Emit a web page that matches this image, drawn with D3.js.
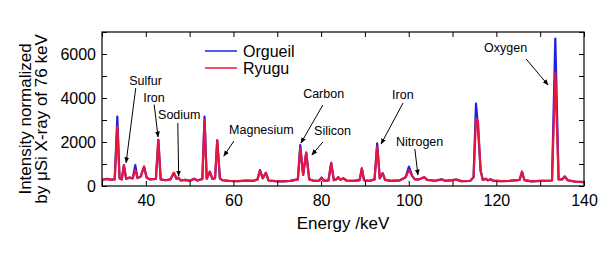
<!DOCTYPE html>
<html>
<head>
<meta charset="UTF-8">
<title></title>
<style>
  body { margin: 0; background: #fff; }
  text { font-family: "Liberation Sans", Arial, sans-serif; }
</style>
</head>
<body>
<script src="https://cdnjs.cloudflare.com/ajax/libs/d3/7.8.5/d3.min.js"></script>
<script>
// energy grid (keV) and intensities
var energy = [30, 31, 32, 32.9, 33.5, 34, 34.5, 35, 35.5, 36.3, 37, 37.6, 38.1, 38.8, 39.6, 40.2, 41, 42.3, 42.85, 43.4,
  44.5, 45.6, 46.4, 47, 47.4, 48, 49, 50, 51, 51.8, 52.9, 53.4, 53.9, 54.6, 55.2, 55.8, 56.3, 56.9, 57.5, 59,
  61, 63, 64.5, 65.5, 66.05, 66.7, 67.4, 68, 69.5, 71, 73, 74.7, 75.25, 75.9, 76.6, 77.3, 78.5, 79.6, 80.1, 80.6,
  81.7, 82.3, 82.9, 83.5, 83.9, 84.4, 85.1, 85.8, 87.5, 88.8, 89.3, 89.8, 91, 92.2, 92.8, 93.4, 94.05, 94.6, 96, 98,
  99.3, 100.05, 100.8, 101.4, 102.3, 103.5, 104.2, 106, 107.5, 108.5, 110.9, 112, 114, 114.8, 115.35, 115.8, 116.4, 116.9, 117.6, 118.1,
  118.7, 119.3, 121, 123, 125.3, 125.85, 126.4, 128, 130, 132.7, 133.45, 134.2, 135, 135.6, 136.3, 138, 140];

var orgueil = [280, 320, 290, 300, 3150, 350, 300, 950, 330, 380, 350, 950, 360, 420, 880, 380, 300, 320, 2100, 300,
  260, 300, 600, 330, 380, 250, 280, 230, 330, 250, 320, 3150, 330, 650, 320, 350, 2080, 350, 260, 230,
  220, 240, 230, 300, 720, 350, 600, 250, 220, 210, 230, 300, 1860, 500, 1520, 300, 230, 250, 380, 240,
  260, 1050, 270, 300, 400, 280, 350, 250, 230, 270, 800, 260, 230, 300, 1940, 350, 580, 280, 230, 260,
  400, 880, 450, 300, 300, 400, 280, 240, 300, 230, 290, 220, 230, 400, 3750, 2700, 700, 280, 330, 260,
  310, 240, 220, 230, 280, 650, 270, 210, 230, 250, 6700, 300, 300, 430, 260, 200, 180];

var ryugu = [280, 320, 290, 300, 2700, 350, 300, 950, 330, 380, 350, 730, 360, 420, 880, 380, 300, 320, 2100, 300,
  260, 300, 600, 330, 380, 250, 280, 230, 330, 250, 320, 3000, 330, 650, 320, 350, 2080, 350, 260, 230,
  220, 240, 230, 300, 720, 350, 600, 250, 220, 210, 230, 300, 1710, 500, 1520, 300, 230, 250, 380, 240,
  260, 1050, 270, 300, 400, 280, 350, 250, 230, 270, 800, 260, 230, 300, 1790, 350, 580, 280, 230, 260,
  400, 730, 450, 300, 300, 400, 280, 240, 300, 230, 290, 220, 230, 400, 3050, 2950, 700, 280, 330, 260,
  310, 240, 220, 230, 280, 650, 270, 210, 230, 250, 5150, 300, 300, 430, 260, 200, 180];

var xTickLabels = [40, 60, 80, 100, 120, 140];
var yTickLabels = [0, 2000, 4000, 6000];

// annotations: label, label position (keV, value), arrow start and tip (keV, value)
var notes = [
  {name: "Sulfur",    lx: 36.2,  ly: 4590, sx: 37.7,  sy: 4450, tx: 35.5,  ty: 1060},
  {name: "Iron",      lx: 39.4,  ly: 3820, sx: 41.9,  sy: 3700, tx: 42.8,  ty: 2230},
  {name: "Sodium",    lx: 42.8,  ly: 3050, sx: 47.3,  sy: 2860, tx: 47.5,  ty: 455},
  {name: "Magnesium", lx: 59,    ly: 2360, sx: 60.1,  sy: 2045, tx: 57.8,  ty: 1360},
  {name: "Carbon",    lx: 75.9,  ly: 4000, sx: 80.4,  sy: 3680, tx: 75.4,  ty: 1950},
  {name: "Silicon",   lx: 78.4,  ly: 2320, sx: 80.4,  sy: 2000, tx: 77.9,  ty: 1410},
  {name: "Iron",      lx: 96.2,  ly: 3950, sx: 98.7,  sy: 3770, tx: 93.7,  ty: 1910},
  {name: "Nitrogen",  lx: 97.1,  ly: 1820, sx: 101.4, sy: 1680, tx: 102.1, ty: 500},
  {name: "Oxygen",    lx: 117.2, ly: 6090, sx: 126.8, sy: 5770, tx: 131.8, ty: 4590}
];

var margin = {top: 32, right: 29, bottom: 68, left: 102};
var width = 613, height = 254;
var w = width - margin.left - margin.right;
var h = height - margin.top - margin.bottom;

var svg = d3.select("body").append("svg")
  .attr("width", width)
  .attr("height", height);

var defs = svg.append("defs");
defs.append("marker")
  .attr("id", "arrow")
  .attr("viewBox", "0 0 10 10")
  .attr("refX", 9).attr("refY", 5)
  .attr("markerWidth", 6).attr("markerHeight", 6)
  .attr("orient", "auto")
  .append("path")
  .attr("d", "M0,1L10,5L0,9Z")
  .attr("fill", "#000");

var g = svg.append("g").attr("transform", "translate(" + margin.left + "," + margin.top + ")");

var x = d3.scaleLinear().domain([30, 140]).range([0, w]);
var y = d3.scaleLinear().domain([0, 7000]).range([h, 0]);

defs.append("clipPath").attr("id", "clip")
  .append("rect").attr("width", w).attr("height", h);

var line = d3.line()
  .x(function(d) { return x(d[0]); })
  .y(function(d) { return y(d[1]); });

var orgData = energy.map(function(e, i) { return [e, orgueil[i]]; });
var ryuData = energy.map(function(e, i) { return [e, ryugu[i]]; });

var plot = g.append("g").attr("clip-path", "url(#clip)");
plot.append("path").datum(orgData)
  .attr("d", line)
  .attr("fill", "none")
  .attr("stroke", "#2222dd")
  .attr("stroke-width", 2.2)
  .attr("stroke-linejoin", "round");
plot.append("path").datum(ryuData)
  .attr("d", line)
  .attr("fill", "none")
  .attr("stroke", "#e8163c")
  .attr("stroke-width", 2.2)
  .attr("stroke-linejoin", "round");

// axes, ticks inward on all four sides
function styleAxis(sel) {
  sel.select(".domain").remove();
  sel.selectAll("line").attr("stroke", "#000");
  sel.selectAll("text").attr("font-size", 16).attr("fill", "#000");
}

g.append("g").attr("transform", "translate(0," + h + ")")
  .call(d3.axisBottom(x).tickValues(d3.range(30, 141, 10)).tickSizeInner(-5).tickSizeOuter(0)
    .tickFormat(function(d) { return xTickLabels.indexOf(d) >= 0 ? d : ""; }).tickPadding(9))
  .call(styleAxis);
g.append("g")
  .call(d3.axisTop(x).tickValues(d3.range(30, 141, 10)).tickSizeInner(-5).tickSizeOuter(0).tickFormat(""))
  .call(styleAxis);
g.append("g")
  .call(d3.axisLeft(y).tickValues(d3.range(0, 7001, 1000)).tickSizeInner(-5).tickSizeOuter(0)
    .tickFormat(function(d) { return yTickLabels.indexOf(d) >= 0 ? d : ""; }).tickPadding(6))
  .call(styleAxis);
g.append("g").attr("transform", "translate(" + w + ",0)")
  .call(d3.axisRight(y).tickValues(d3.range(0, 7001, 1000)).tickSizeInner(-5).tickSizeOuter(0).tickFormat(""))
  .call(styleAxis);

g.append("rect")
  .attr("width", w).attr("height", h)
  .attr("fill", "none")
  .attr("stroke", "#000")
  .attr("stroke-width", 1.2);

// legend
var legend = [["Orgueil", "#2222dd"], ["Ryugu", "#e8163c"]];
legend.forEach(function(d, i) {
  var ly = 19 + i * 17;
  g.append("line")
    .attr("x1", 103).attr("x2", 135)
    .attr("y1", ly).attr("y2", ly)
    .attr("stroke", d[1]).attr("stroke-width", 1.5);
  g.append("text")
    .attr("x", 141).attr("y", ly + 6)
    .attr("font-size", 16)
    .text(d[0]);
});

// annotations
notes.forEach(function(n) {
  g.append("text")
    .attr("x", x(n.lx)).attr("y", y(n.ly))
    .attr("font-size", 12.5)
    .text(n.name);
  g.append("line")
    .attr("x1", x(n.sx)).attr("y1", y(n.sy))
    .attr("x2", x(n.tx)).attr("y2", y(n.ty))
    .attr("stroke", "#000")
    .attr("stroke-width", 1)
    .attr("marker-end", "url(#arrow)");
});

// axis titles
svg.append("text")
  .attr("x", margin.left + w / 2).attr("y", 229)
  .attr("text-anchor", "middle")
  .attr("font-size", 17)
  .text("Energy /keV");

var yt = svg.append("text")
  .attr("transform", "translate(31,119) rotate(-90)")
  .attr("text-anchor", "middle")
  .attr("font-size", 17);
yt.append("tspan").attr("x", 0).attr("y", 0).text("Intensity normalized");
yt.append("tspan").attr("x", 0).attr("y", 16).text("by \u03bcSi X-ray of 76 keV");
</script>
</body>
</html>
